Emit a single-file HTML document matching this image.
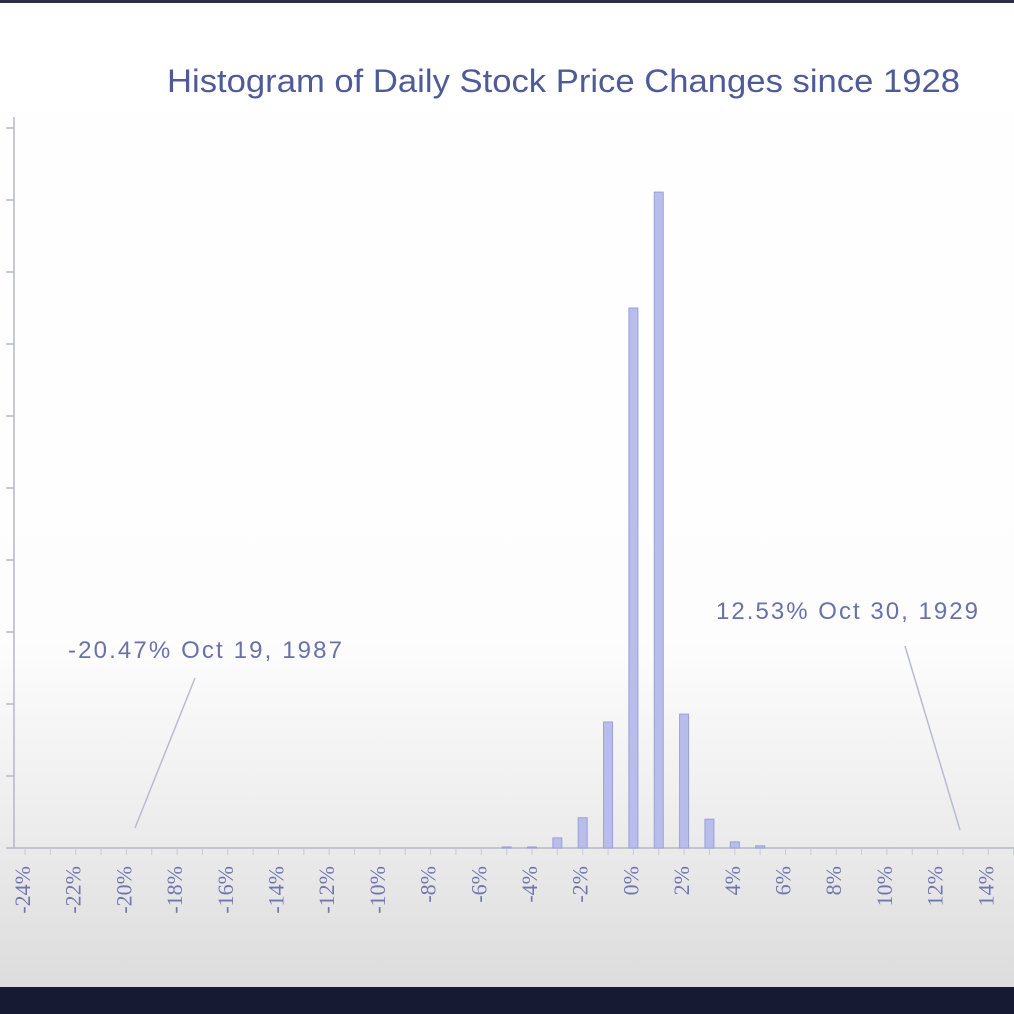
<!DOCTYPE html>
<html><head><meta charset="utf-8"><style>
html,body{margin:0;padding:0;width:1014px;height:1014px;overflow:hidden;background:#fff}
svg{display:block}
</style></head><body>
<svg id="chart" width="1014" height="1014" viewBox="0 0 1014 1014" xmlns="http://www.w3.org/2000/svg">
<defs>
<linearGradient id="bg" x1="0" y1="0" x2="0" y2="1">
<stop offset="0" stop-color="#ffffff"/><stop offset="0.65" stop-color="#fdfdfd"/><stop offset="0.8" stop-color="#f0f0f0"/><stop offset="1" stop-color="#dcdcdc"/>
</linearGradient>
</defs>
<rect x="0" y="0" width="1014" height="988" fill="url(#bg)"/>
<rect x="0" y="0" width="1014" height="3" fill="#2a2e4a"/>
<rect x="0" y="987" width="1014" height="27" fill="#161a33"/>
<text x="167" y="92" font-family="Liberation Sans Narrow, Liberation Sans, sans-serif" font-size="32" fill="#4f5b98" textLength="793" lengthAdjust="spacingAndGlyphs">Histogram of Daily Stock Price Changes  since 1928</text>
<g id="axes"></g>
<g id="bars"></g>
<text x="68" y="658" font-family="Liberation Sans, sans-serif" font-size="24" fill="#6a71aa" textLength="274" lengthAdjust="spacing">-20.47% Oct 19, 1987</text>
<line x1="195" y1="678" x2="135" y2="828" stroke="#b8bccf" stroke-width="1.5"/>
<text x="716" y="619" font-family="Liberation Sans, sans-serif" font-size="24" fill="#6a71aa" textLength="262" lengthAdjust="spacing">12.53% Oct 30, 1929</text>
<line x1="905" y1="646" x2="960" y2="830" stroke="#b8bccf" stroke-width="1.5"/>
</svg>
<script>
const binCenters = [-5, -4, -3, -2, -1, 0, 1, 2, 3, 4, 5];
const binCounts = [15, 15, 140, 420, 1750, 7500, 9110, 1860, 400, 85, 30];
const xTickValues = [-24,-22,-20,-18,-16,-14,-12,-10,-8,-6,-4,-2,0,2,4,6,8,10,12,14];
const yTickValues = [0,1000,2000,3000,4000,5000,6000,7000,8000,9000,10000];

const NS = 'http://www.w3.org/2000/svg';
const x0 = 25, xStep = 25.35, base = 848, yUnit = 0.072;
function xs(v){ return x0 + (v + 24) * xStep; }
function ys(v){ return base - v * yUnit; }
function mk(tag, attrs, parent){ const e = document.createElementNS(NS, tag); for (const k in attrs) e.setAttribute(k, attrs[k]); parent.appendChild(e); return e; }

const axes = document.getElementById('axes');
const yAxis = mk('line', {x1:14, y1:117, x2:14, y2:base, stroke:'#b4b8c8', 'stroke-width':1.5}, axes);


yTickValues.forEach(v => {
  const t = mk('line', {x1:6, y1:ys(v), x2:14, y2:ys(v), stroke:'#b4b8c8', 'stroke-width':1.5}, axes);
  
  
});
const xAxis = mk('line', {x1:14, y1:base, x2:1014, y2:base, stroke:'#b4b8c8', 'stroke-width':1.5}, axes);


for (let v = -24; v <= 15; v++) {
  const t = mk('line', {x1:xs(v), y1:base, x2:xs(v), y2:base + 7, stroke:'#c8cad6', 'stroke-width':1}, axes);
  
  
}
xTickValues.forEach(v => {
  const x = xs(v), y = 866;
  const t = mk('text', {x:x, y:y, transform:'rotate(-90 ' + x + ' ' + y + ')', 'text-anchor':'end', 'dominant-baseline':'middle', 'font-family':'Liberation Serif, serif', 'font-size':22, fill:'#7076b0'}, axes);
  t.textContent = v + '%';
  
  
});

const bars = document.getElementById('bars');
binCenters.forEach((c, i) => {
  const top = ys(binCounts[i]);
  const r = mk('rect', {x:xs(c) - 4.5, y:top, width:9, height:Math.max(base - top, 0.5), fill:'#b9bdeb', stroke:'#9aa0d8', 'stroke-width':1}, bars);
  
  
});
</script>
</body></html>
